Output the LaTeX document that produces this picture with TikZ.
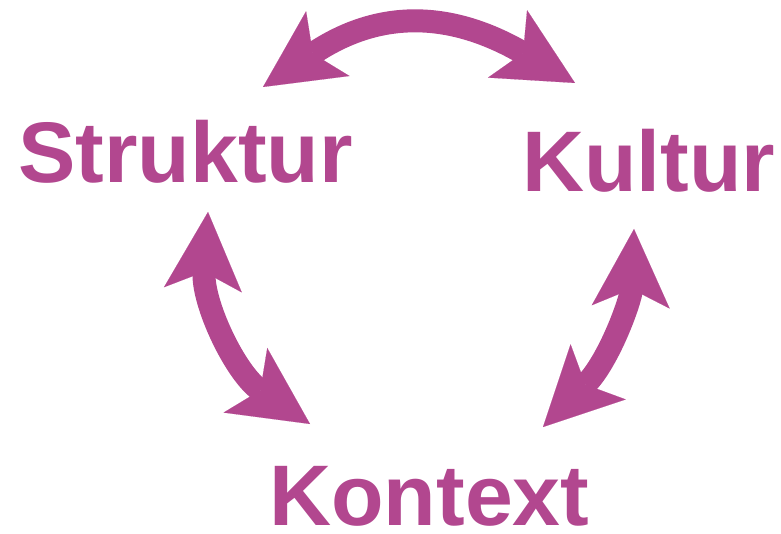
\documentclass[tikz,border=0pt]{standalone}
\usepackage{fontspec}
\setmainfont{Liberation Sans}
\usetikzlibrary{arrows.meta}
\definecolor{mag}{HTML}{B2478F}
\tikzset{
  word/.style={inner sep=0pt, anchor=base west, text=mag, text depth=0pt,
    font=\fontsize{86}{96}\selectfont\bfseries},
  twoway/.style={draw=mag, line width=23pt,
    {Stealth[length=78pt,width=78pt,inset=18pt,line width=0.1pt,fill=mag]}-{Stealth[length=78pt,width=78pt,inset=18pt,line width=0.1pt,fill=mag]}}
}
\begin{document}
\begin{tikzpicture}[x=1pt,y=-1pt]
\useasboundingbox (0,0) rectangle (781,534);
\node[word] (struktur) at (18,183) {Struktur};
\node[word] (kultur) at (522,192) {Kultur};
\node[word] (kontext) at (269,525) {Kontext};
% arrow end points
\coordinate (tl) at (263,87);
\coordinate (tr) at (575,83);
\coordinate (ls) at (208,212);
\coordinate (lk) at (310,424);
\coordinate (rk) at (634,229);
\coordinate (rc) at (543,427);
\draw[twoway] (tl) .. controls (378,10) and (449,10) .. (tr);
\draw[twoway] (ls) .. controls (202,303) and (235.5,373.6) .. (lk);
\draw[twoway] (rk) .. controls (631,300) and (609,361) .. (rc);
\end{tikzpicture}
\end{document}
